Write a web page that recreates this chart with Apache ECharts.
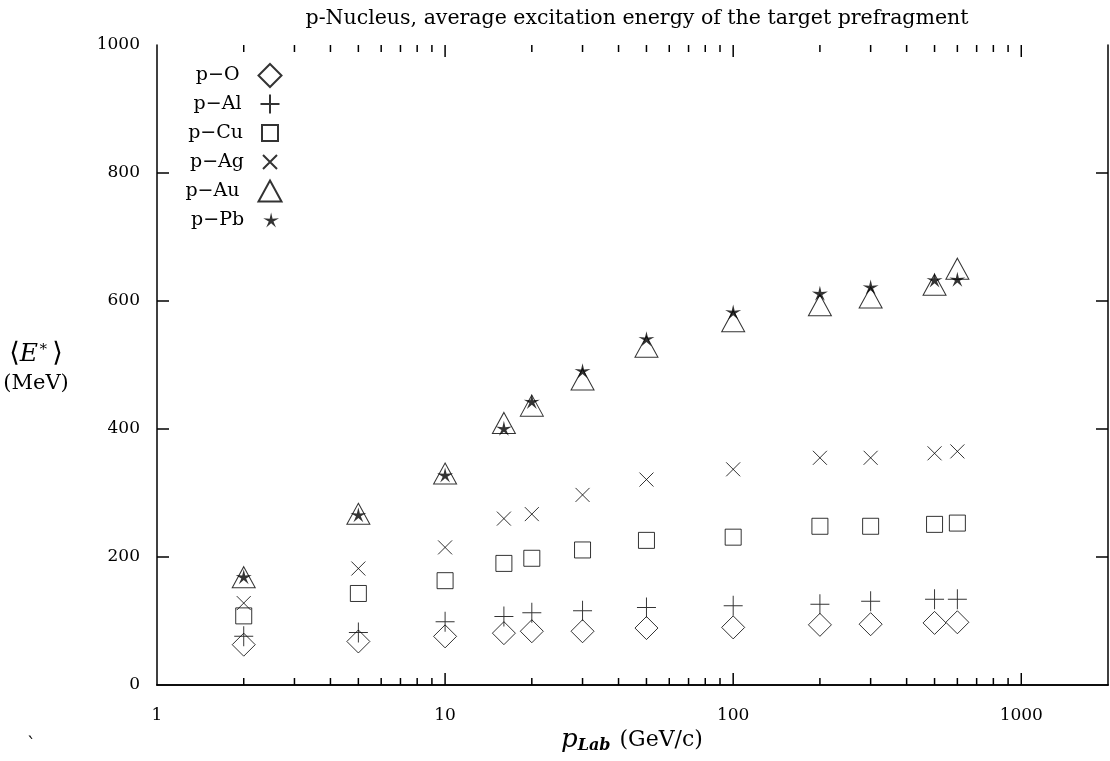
<!DOCTYPE html>
<html>
<head>
<meta charset="utf-8">
<title>p-Nucleus excitation energy</title>
<script src="https://cdn.jsdelivr.net/npm/echarts@6/dist/echarts.min.js"></script>
<style>
	html, body { margin: 0; padding: 0; background: #fff; }
	#chart { width: 1110px; height: 761px; }
</style>
</head>
<body>
<div id="chart"></div>
<script>
// beam momentum p_Lab (GeV/c)
const momenta = [2, 5, 10, 16, 20, 30, 50, 100, 200, 300, 500, 600]
// average excitation energy <E*> (MeV) per target
const pO = [63, 68, 76, 81, 84, 84, 89, 90, 94, 95, 97, 98]
const pAl = [76, 82, 99, 107, 113, 116, 121, 124, 126, 131, 134, 134]
const pCu = [108, 143, 163, 190, 198, 211, 226, 231, 248, 248, 251, 253]
const pAg = [128, 182, 215, 260, 267, 297, 321, 337, 355, 355, 362, 365]
const pAu = [163, 262, 325, 404, 431, 472, 523, 563, 588, 600, 620, 645]
const pPb = [169, 266, 328, 401, 443, 491, 541, 583, 612, 622, 633, 634]
// tick values (drawn inward, gnuplot style)
const xTicks = [2, 3, 4, 5, 6, 7, 8, 9, 10, 20, 30, 40, 50, 60, 70, 80, 90, 100, 200, 300, 400, 500, 600, 700, 800, 900, 1000]
const yTicks = [200, 400, 600, 800]

const FONT = 'DejaVu Serif'
const STAR = 'path://M0,-1L0.176,-0.243L0.951,-0.309L0.285,0.093L0.588,0.809L0,0.3L-0.588,0.809L-0.285,0.093L-0.951,-0.309L-0.176,-0.243Z'
const PLUS = 'path://M10,0V20M0,10H20'
const CROSS = 'path://M0,0L20,20M20,0L0,20'

// name, values, symbol, size, legend row y
const targets = [
	{ name: 'p−O', values: pO, symbol: 'diamond', size: [23, 23], row: 75 },
	{ name: 'p−Al', values: pAl, symbol: PLUS, size: [19, 20], row: 104 },
	{ name: 'p−Cu', values: pCu, symbol: 'rect', size: [16, 16], row: 133 },
	{ name: 'p−Ag', values: pAg, symbol: CROSS, size: [14, 14], row: 162 },
	{ name: 'p−Au', values: pAu, symbol: 'triangle', size: [23, 21], row: 191 },
	{ name: 'p−Pb', values: pPb, symbol: STAR, size: [16, 15], row: 220 }
]

const chart = echarts.init(document.getElementById('chart'), null, { renderer: 'canvas' })

const lineStyle = { color: '#000', width: 1.5 }
const tickStyle = { stroke: '#000', lineWidth: 1.5 }

const series = targets.map(t => ({
	name: t.name,
	type: 'scatter',
	data: momenta.map((m, i) => [m, t.values[i]]),
	symbol: t.symbol,
	symbolSize: t.size,
	symbolOffset: t.symbol === 'triangle' ? [0, '-16.7%'] : [0, 0],
	itemStyle: {
		color: t.symbol === STAR ? '#000' : 'transparent',
		borderColor: '#000',
		borderWidth: t.symbol === STAR ? 0 : 1
	},
	emphasis: { disabled: true },
	z: 3
}))

// x ticks on bottom and top edges, decades longer
series.push({
	type: 'custom',
	silent: true,
	data: xTicks.map(v => [v, 0]),
	encode: { x: 0, y: 1 },
	renderItem(params, api) {
		const v = api.value(0)
		const len = /^10*$/.test(String(v)) ? 12 : 7
		const x = api.coord([v, 0])[0]
		const yb = api.coord([1, 0])[1]
		const yt = api.coord([1, 1000])[1]
		return {
			type: 'group',
			children: [
				{ type: 'line', shape: { x1: x, y1: yb, x2: x, y2: yb - len }, style: tickStyle },
				{ type: 'line', shape: { x1: x, y1: yt, x2: x, y2: yt + len }, style: tickStyle }
			]
		}
	},
	z: 2
})

// y ticks on left and right edges
series.push({
	type: 'custom',
	silent: true,
	data: yTicks.map(v => [1, v]),
	encode: { x: 0, y: 1 },
	renderItem(params, api) {
		const v = api.value(1)
		const [xl, y] = api.coord([1, v])
		const xr = api.coord([2000, v])[0]
		return {
			type: 'group',
			children: [
				{ type: 'line', shape: { x1: xl, y1: y, x2: xl + 12, y2: y }, style: tickStyle },
				{ type: 'line', shape: { x1: xr, y1: y, x2: xr - 12, y2: y }, style: tickStyle }
			]
		}
	},
	z: 2
})

const legends = targets.map(t => ({
	data: [t.name],
	orient: 'horizontal',
	align: 'right',
	selectedMode: false,
	padding: 0,
	itemWidth: t.size[0],
	itemHeight: t.size[1],
	right: 1110 - 271 - t.size[0] / 2,
	top: t.row - Math.max(12, t.size[1] / 2),
	textStyle: {
		fontFamily: FONT,
		fontSize: 19,
		color: '#000',
		lineHeight: 24,
		padding: [0, 14, 0, 0]
	}
}))

chart.setOption({
	animation: false,
	backgroundColor: '#fff',
	title: {
		text: 'p-Nucleus, average excitation energy of the target prefragment',
		left: 632,
		top: 3,
		textAlign: 'center',
		textStyle: {
			fontFamily: FONT,
			fontSize: 20.5,
			fontWeight: 'normal',
			color: '#000'
		}
	},
	legend: legends,
	grid: {
		left: 157,
		right: 2,
		top: 45,
		bottom: 76
	},
	xAxis: [
		{
			type: 'log',
			logBase: 10,
			min: 1,
			max: 2000,
			axisLine: { lineStyle },
			axisTick: { show: false },
			axisLabel: {
				margin: 22,
				showMaxLabel: false,
				formatter: v => String(v),
				fontFamily: FONT,
				fontSize: 17,
				color: '#000'
			},
			splitLine: { show: false }
		},
		{
			type: 'log',
			logBase: 10,
			min: 1,
			max: 2000,
			position: 'top',
			axisLine: { lineStyle },
			axisTick: { show: false },
			axisLabel: { show: false },
			splitLine: { show: false }
		}
	],
	yAxis: [
		{
			type: 'value',
			min: 0,
			max: 1000,
			interval: 200,
			axisLine: { show: true, lineStyle },
			axisTick: { show: false },
			axisLabel: {
				margin: 17,
				formatter: v => String(v),
				fontFamily: FONT,
				fontSize: 17,
				color: '#000'
			},
			splitLine: { show: false }
		},
		{
			type: 'value',
			min: 0,
			max: 1000,
			interval: 200,
			position: 'right',
			axisLine: { show: true, lineStyle },
			axisTick: { show: false },
			axisLabel: { show: false },
			splitLine: { show: false }
		}
	],
	graphic: [
		{
			type: 'text',
			x: 632,
			y: 740,
			style: {
				text: '{p|p}{sub|Lab} (GeV/c)',
				align: 'center',
				verticalAlign: 'middle',
				fontFamily: FONT,
				fontSize: 22,
				fill: '#000',
				rich: {
					p: { fontFamily: FONT, fontSize: 26, fontStyle: 'italic', lineHeight: 28, verticalAlign: 'middle' },
					sub: { fontFamily: FONT, fontSize: 16, fontStyle: 'italic', fontWeight: 'bold', padding: [11, 2, 0, 0], verticalAlign: 'middle' }
				}
			}
		},
		{
			type: 'text',
			x: 36,
			y: 354,
			style: {
				text: '⟨{e|E}{s|∗}⟩',
				align: 'center',
				verticalAlign: 'middle',
				fontFamily: FONT,
				fontSize: 27,
				fill: '#000',
				rich: {
					e: { fontFamily: FONT, fontSize: 25, fontStyle: 'italic' },
					s: { fontFamily: FONT, fontSize: 15, padding: [0, 4, 14, 0] }
				}
			}
		},
		{
			type: 'text',
			x: 36,
			y: 384,
			style: {
				text: '(MeV)',
				align: 'center',
				verticalAlign: 'middle',
				fontFamily: FONT,
				fontSize: 21,
				fill: '#000'
			}
		},
		{
			type: 'text',
			left: 27,
			top: 737,
			style: { text: '`', fontFamily: FONT, fontSize: 18, fill: '#000' }
		}
	],
	series
})
</script>
</body>
</html>
